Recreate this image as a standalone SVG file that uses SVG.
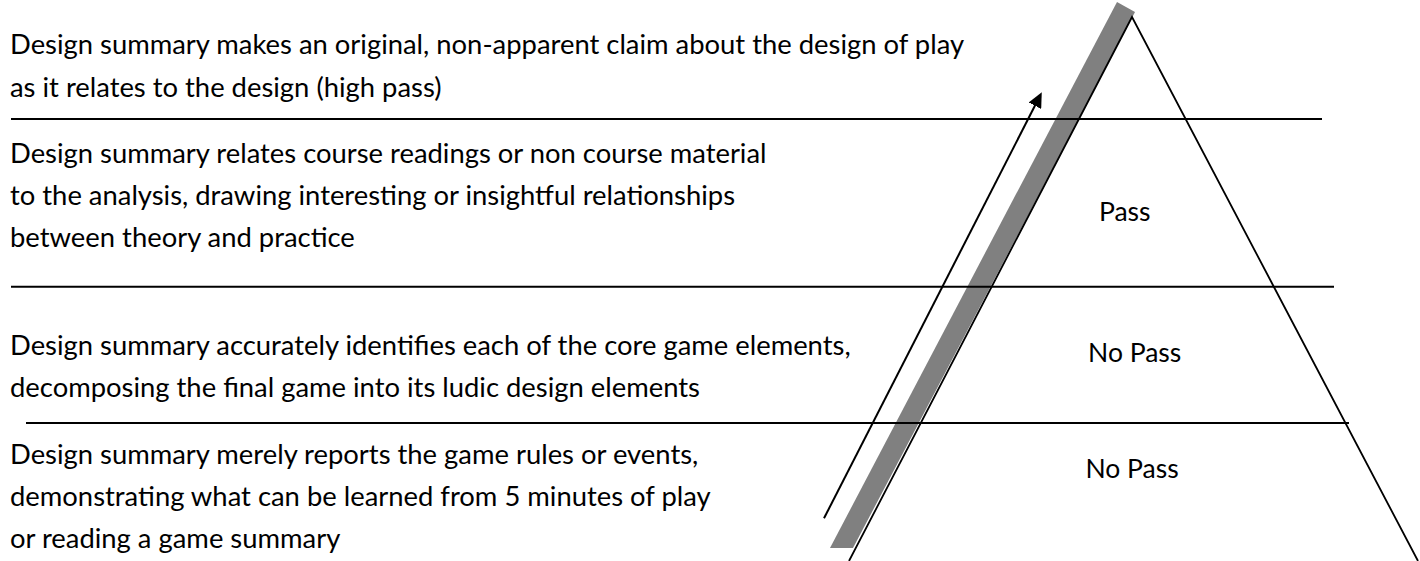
<svg xmlns="http://www.w3.org/2000/svg" width="1420" height="561" viewBox="0 0 1420 561">
  <defs>
    <style>
      .t { font-family: Lato, "Open Sans", "Liberation Sans", sans-serif; font-size: 27.4px; fill: #000; }
      .lbl { font-size: 26.5px; text-anchor: middle; }
      .rule { stroke: #000; stroke-width: 2; fill: none; }
      .tri { stroke: #000; stroke-width: 1.8; fill: none; }
    </style>
    <marker id="ah" markerWidth="15" markerHeight="14" refX="1" refY="7" orient="auto" markerUnits="userSpaceOnUse">
      <path d="M0,0 L15,7 L0,14 Z" fill="#000"/>
    </marker>
  </defs>
  <rect width="1420" height="561" fill="#fff"/>

  <g id="band">
    <polygon points="1117,2 1135,12 853,548 830,548" fill="#808080"/>
  </g>

  <g id="rules">
    <line class="rule" x1="11" y1="119" x2="1322" y2="119"/>
    <line class="rule" x1="11" y1="286.7" x2="1334" y2="286.7"/>
    <line class="rule" x1="26" y1="423" x2="1349" y2="423"/>
  </g>

  <g id="pyramid">
    <polyline class="tri" points="849,561 1132,17 1418,561"/>
  </g>

  <g id="level1">
    <text class="t" x="10" y="54.3">Design summary makes an original, non-apparent claim about the design of play</text>
    <text class="t" x="10" y="96.7">as it relates to the design (high pass)</text>
  </g>
  <g id="level2">
    <text class="t" x="10" y="163.3">Design summary relates course readings or non course material</text>
    <text class="t" x="10" y="205">to the analysis, drawing interesting or insightful relationships</text>
    <text class="t" x="10" y="246.7">between theory and practice</text>
  </g>
  <g id="level3">
    <text class="t" x="10" y="355">Design summary accurately identifies each of the core game elements,</text>
    <text class="t" x="10" y="397">decomposing the final game into its ludic design elements</text>
  </g>
  <g id="level4">
    <text class="t" x="10" y="464.3">Design summary merely reports the game rules or events,</text>
    <text class="t" x="10" y="506">demonstrating what can be learned from 5 minutes of play</text>
    <text class="t" x="10" y="548">or reading a game summary</text>
  </g>

  <g id="label-pass"><text class="t lbl" x="1124.7" y="221">Pass</text></g>
  <g id="label-nopass1"><text class="t lbl" x="1134.7" y="361.7">No Pass</text></g>
  <g id="label-nopass2"><text class="t lbl" x="1132" y="478.3">No Pass</text></g>

  <g id="connectors">
    <line x1="824" y1="518.3" x2="1035.4" y2="104.8" stroke="#000" stroke-width="2" marker-end="url(#ah)"/>
  </g>
</svg>
